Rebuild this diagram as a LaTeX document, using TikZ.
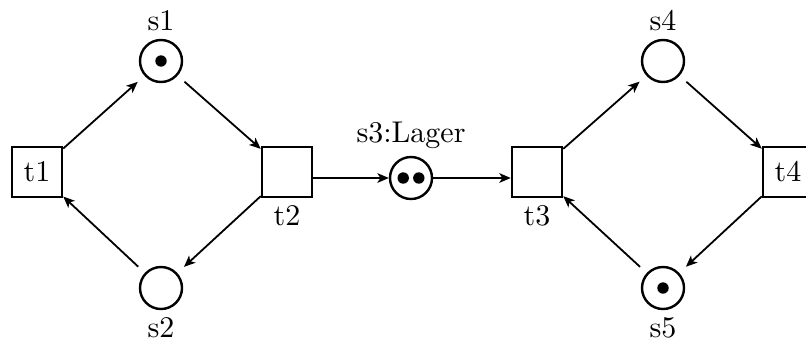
\documentclass[tikz,border=0pt]{standalone}
\usetikzlibrary{petri,arrows.meta}

\tikzset{
  every place/.style={draw,thick,minimum size=14pt,inner sep=0pt},
  every transition/.style={draw,thick,minimum size=16.7pt,inner sep=0pt},
  every token/.style={fill=black,circle,inner sep=0pt,minimum size=3.8pt},
  every label/.style={label distance=-1pt},
  token distance=5.2pt,
  arc/.style={semithick,-{Stealth[length=3.8pt,width=3.2pt,inset=1pt]}},
  toplace/.style={arc,shorten >=3pt},
  fromplace/.style={arc,shorten <=3pt}
}

\begin{document}
\begin{tikzpicture}[x=0.3333pt,y=0.3333pt,yscale=-1,xscale=1,label distance=-1pt]
\useasboundingbox (0,0) rectangle (806,341);
\clip (0,0) rectangle (806,341);

% left cycle
\node[transition] (t1) at (37,172) {t1};
\node[place,tokens=1,label=above:s1] (s1) at (161,61) {};
\node[transition,label=below:t2] (t2) at (287,172) {};
\node[place,label=below:s2] (s2) at (161,288) {};

% storage in the middle
\node[place,tokens=2,label={above:{s3:Lager}}] (s3) at (411,178) {};

% right cycle
\node[transition,label=below:t3] (t3) at (537,172) {};
\node[place,label=above:s4] (s4) at (663,61) {};
\node[transition] (t4) at (788,172) {t4};
\node[place,tokens=1,label=below:s5] (s5) at (663,288) {};

% arcs
\draw[toplace] (t1) -- (s1);
\draw[fromplace] (s1) -- (t2);
\draw[toplace] (t2) -- (s2);
\draw[fromplace] (s2) -- (t1);
\draw[arc] (t2.east |- s3) -- (s3);
\draw[arc] (s3) -- (t3.west |- s3);
\draw[toplace] (t3) -- (s4);
\draw[fromplace] (s4) -- (t4);
\draw[toplace] (t4) -- (s5);
\draw[fromplace] (s5) -- (t3);

\end{tikzpicture}
\end{document}
